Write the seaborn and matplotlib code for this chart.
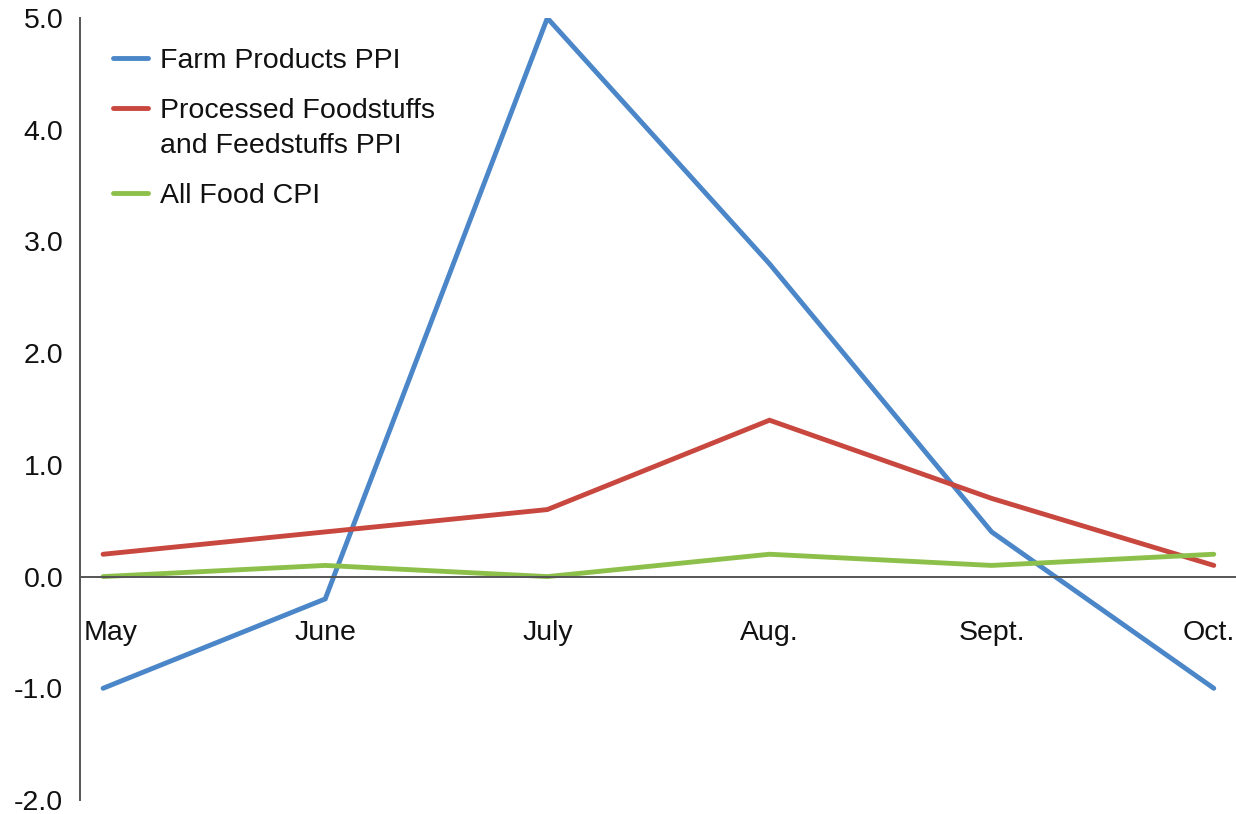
import matplotlib
matplotlib.use("Agg")
import matplotlib.pyplot as plt
import matplotlib.transforms as mtransforms
from matplotlib.legend_handler import HandlerLine2D
import numpy as np
import seaborn as sns
import pandas as pd

months = ["May", "June", "July", "Aug.", "Sept.", "Oct."]
farm_ppi = [-1.0, -0.2, 5.0, 2.8, 0.4, -1.0]
processed_ppi = [0.2, 0.4, 0.6, 1.4, 0.7, 0.1]
food_cpi = [0.0, 0.1, 0.0, 0.2, 0.1, 0.2]
series_names = ["Farm Products PPI",
                "Processed Foodstuffs\nand Feedstuffs PPI",
                "All Food CPI"]
colors = ["#4A86C8", "#C8473F", "#8DC04A"]
y_ticks = [-2.0, -1.0, 0.0, 1.0, 2.0, 3.0, 4.0, 5.0]

sns.set_theme(style="white")
plt.rcParams["font.family"] = ["Liberation Sans", "DejaVu Sans"]

frames = []
for name, vals in zip(series_names, [farm_ppi, processed_ppi, food_cpi]):
    frames.append(pd.DataFrame({"month": months, "value": vals, "series": name}))
df = pd.concat(frames, ignore_index=True)

fig = plt.figure(figsize=(12.36, 8.14), dpi=100)
ax = fig.add_axes([0.0647, 0.0172, 0.9353, 0.9606])

LW = 3.5
sns.lineplot(data=df, x="month", y="value", hue="series",
             hue_order=series_names, palette=colors, sort=False,
             linewidth=LW, ax=ax)
for ln in ax.get_lines():
    ln.set_solid_capstyle("round")
    ln.set_solid_joinstyle("miter")

ax.set_xlim(-0.104, 5.1)
ax.set_ylim(-2.0, 5.0)
ax.set_xlabel("")
ax.set_ylabel("")

# axes frame: left spine plus a baseline at zero
for s in ["top", "right"]:
    ax.spines[s].set_visible(False)
ax.spines["bottom"].set_position(("data", 0))
for s in ["left", "bottom"]:
    ax.spines[s].set_color("#555555")
    ax.spines[s].set_linewidth(1.4)

FS = 20.5
ax.set_yticks(y_ticks)
ax.set_yticklabels([f"{v:.1f}" for v in y_ticks])
ax.tick_params(axis="y", length=0, pad=12, labelsize=FS, labelcolor="#111111")
ax.tick_params(axis="x", direction="in", length=7, width=1.2, color="#555555",
               pad=31, labelsize=FS, labelcolor="#111111")
ax.set_xticks(range(len(months)))
ax.set_xticklabels(months)

# nudge the end labels so they stay inside the frame
xl = ax.get_xticklabels()
xl[0].set_transform(xl[0].get_transform() +
                    mtransforms.ScaledTranslation(8 / 100, 0, fig.dpi_scale_trans))
xl[-1].set_transform(xl[-1].get_transform() +
                     mtransforms.ScaledTranslation(-5 / 100, 0, fig.dpi_scale_trans))


class FirstLineHandler(HandlerLine2D):
    """Line handle lifted to sit beside the first line of a two-line label."""

    def __init__(self, dy, **kw):
        super().__init__(**kw)
        self.dy = dy

    def create_artists(self, legend, orig_handle, xdescent, ydescent,
                       width, height, fontsize, trans):
        arts = super().create_artists(legend, orig_handle, xdescent, ydescent,
                                      width, height, fontsize, trans)
        for a in arts:
            a.set_ydata(np.asarray(a.get_ydata()) + self.dy)
        return arts


handles, labels = ax.get_legend_handles_labels()
leg = ax.legend(handles, labels, title=None, frameon=False, loc="upper left",
                bbox_to_anchor=(0.006, 0.995), fontsize=FS,
                handlelength=1.25, handletextpad=0.42, labelspacing=0.85,
                handler_map={handles[1]: FirstLineHandler(dy=15)})
for t in leg.get_texts():
    t.set_color("#111111")
    t.set_linespacing(1.45)
for h in leg.legend_handles:
    h.set_linewidth(LW)
    h.set_solid_capstyle("round")

fig.savefig("out.png", dpi=100)
